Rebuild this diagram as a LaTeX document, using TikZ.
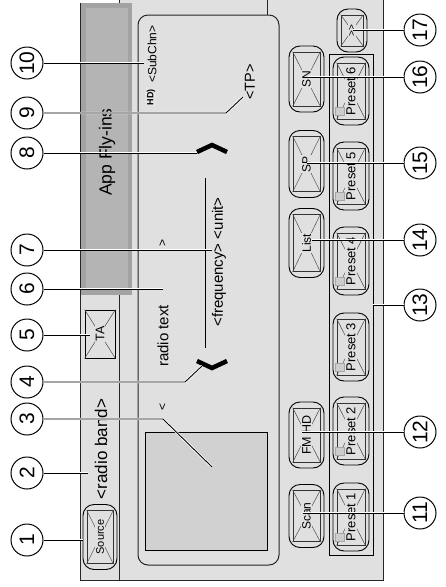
\documentclass[tikz,border=0pt]{standalone}
\usepackage{fontspec}
\setmainfont{Liberation Sans}
\definecolor{scr}{RGB}{224,224,224}
\definecolor{flyout}{RGB}{163,163,163}
\definecolor{flyin}{RGB}{180,180,180}
\definecolor{art}{RGB}{209,209,209}
\definecolor{icongray}{RGB}{205,205,205}
\newcommand{\fsz}[1]{\fontsize{#1}{#1}\selectfont}
% rounded button: name, position, width, height, text, font size
\newcommand{\rbtn}[6]{%
  \node[btnouter, minimum width=#3pt, minimum height=#4pt] (#1) at #2 {};
  \node[btninner, minimum width={#3pt-8pt}, minimum height={#4pt-12pt}] (#1i) at #2 {};
  \draw[xline] (#1i.north west) -- (#1i.south east) (#1i.north east) -- (#1i.south west);
  \node[lbl, fill=scr, font=\fsz{#6}] (#1t) at #2 {#5};
}
\begin{document}
\begin{tikzpicture}[x=1pt,y=-1pt,
  lbl/.style={rotate=90, inner sep=1pt},
  num/.style={circle, draw, line width=1pt, fill=white, minimum size=32pt, inner sep=0pt, rotate=90, font=\fsz{21}},
  leader/.style={line width=0.9pt, preaction={draw=white, line width=2.4pt}},
  frameline/.style={draw=black!85, line width=0.8pt},
  btnouter/.style={draw=black, line width=0.9pt, rounded corners=11pt, fill=scr, inner sep=0pt},
  btninner/.style={draw=black!80, line width=0.7pt, inner sep=0pt},
  xline/.style={draw=black!70, line width=0.5pt},
  iconbox/.style={draw=black!35, fill=icongray, line width=0.5pt, minimum size=8.5pt, inner sep=0pt},
  chevron/.style={line width=4.5pt, line join=miter},
]
\useasboundingbox (0,0) rectangle (445,587);

% screen background and frame
\fill[scr] (119,0) rectangle (383,580);
\fill[scr] (80,3) rectangle (119,580);
\draw[frameline] (80,580) -- (80,3) -- (119,3);
\draw[frameline] (119,0) -- (119,580);
\draw[frameline] (80,580) -- (383,580) -- (383,0);
\draw[frameline] (267,0) -- (267,15);

% main panel
\draw[draw=black!85, line width=1pt, rounded corners=10pt, fill=scr] (138,15) rectangle (279,565);
\node[draw=black, line width=1pt, fill=art, minimum width=122pt, minimum height=118pt, inner sep=0pt] (cover) at (206,491) {};

% texts in panel
\node[lbl, font=\fsz{12}] (subchn) at (152,54) {<SubChn>};
\node[lbl, fill=black!10, inner sep=0.8pt, font=\bfseries\fsz{9}] (hdlogo) at (151,97) {HD)};
\node[lbl, font=\fsz{14.5}] (tp) at (250,82) {<TP>};
\node[lbl, font=\fsz{15}] (freq) at (219,262) {<frequency> <unit>};
\node[lbl, font=\fsz{15}] (rtext) at (163,336) {radio text};
\node[lbl, font=\fsz{12}] (nextt) at (163,243) {>};
\node[lbl, font=\fsz{12}] (prevt) at (163,407) {<};
\coordinate (fqa) at (205,178);
\coordinate (fqb) at (205,348);
\draw[line width=0.9pt] (fqa) -- (fqb);
\coordinate (chua) at (197,152); \coordinate (chub) at (212,145); \coordinate (chuc) at (227,152);
\draw[chevron] (chua) -- (chub) -- (chuc);
\coordinate (chda) at (197,361); \coordinate (chdb) at (212,368); \coordinate (chdc) at (227,361);
\draw[chevron] (chda) -- (chdb) -- (chdc);

% status bar
\node[lbl, font=\fsz{17}] (band) at (101,449) {<radio band>};
\rbtn{source}{(100,537)}{34}{65}{Source}{11}
\node[draw=black, line width=0.8pt, minimum width=30pt, minimum height=48pt, inner sep=0pt] (ta) at (100,334) {};
\draw[xline] (ta.north west) -- (ta.south east) (ta.north east) -- (ta.south west);
\node[lbl, fill=scr, font=\fsz{12.5}] (tat) at (100,334) {TA};

% side buttons
\rbtn{sn}{(306.5,79)}{35}{66}{SN}{12}
\rbtn{sp}{(306.5,164)}{35}{67}{SP}{12}
\rbtn{list}{(306.5,243)}{35}{69}{List}{12}
\rbtn{fmhd}{(306.5,435)}{35}{66}{FM HD}{12.5}
\rbtn{scan}{(306.5,516)}{35}{63}{Scan}{12}
\rbtn{more}{(352,30.5)}{30}{43}{\char"003E\kern0.6pt\char"003E}{10}

% preset bar
\node[draw=black, line width=0.8pt, minimum width=44pt, minimum height=501pt, inner sep=0pt] (pbar) at (351,304.5) {};
\foreach \n/\y in {1/517,2/431,3/347,4/261,5/176,6/91}{
  \rbtn{p\n}{(351,\y)}{36}{68}{Preset \n}{13}
  \node[iconbox] (p\n icon) at ([xshift=3pt,yshift=8pt]p\n i.south west) {};
}

% app fly-ins overlay
\fill[flyout] (81,3) rectangle (132,295);
\fill[flyin] (86,8) rectangle (128,290);
\node[lbl, font=\fsz{17.5}] (fly) at (107,152) {App Fly-ins};

% callout circles
\foreach \i/\y in {1/540,2/473,3/419,4/382,5/335,6/289,7/250,8/153,9/113,10/63}{
  \node[num] (c\i) at (27,\y) {\i};
}
\foreach \i/\y in {17/30,16/77,15/163,14/240,13/305,12/432,11/513}{
  \node[num] (c\i) at (420,\y) {\i};
}
% leader end points
\coordinate (t1) at (83,540);
\coordinate (t2) at (88,473);
\coordinate (t3a) at (163,419); \coordinate (t3) at (212,467);
\coordinate (t4a) at (185,382); \coordinate (t4) at (202,366);
\coordinate (t5) at (90,335);
\coordinate (t6) at (163,289);
\coordinate (t7) at (212,250);
\coordinate (t8) at (197,153);
\coordinate (t9a) at (226,113); \coordinate (t9) at (243,97);
\coordinate (t10) at (144,63);
\coordinate (t17) at (353,30);
\coordinate (t16) at (308,77);
\coordinate (t15) at (307,163);
\coordinate (t14) at (312,240);
\coordinate (t13) at (373,305);
\coordinate (t12) at (302,432);
\coordinate (t11) at (303,513);

\draw[leader] (c1) -- (t1);
\draw[leader] (c2) -- (t2);
\draw[leader] (c3) -- (t3a) -- (t3);
\draw[leader] (c4) -- (t4a) -- (t4);
\draw[leader] (c5) -- (t5);
\draw[leader] (c6) -- (t6);
\draw[leader] (c7) -- (t7);
\draw[leader] (c8) -- (t8);
\draw[leader] (c9) -- (t9a) -- (t9);
\draw[leader] (c10) -- (t10);
\foreach \i in {11,...,17}{ \draw[leader] (c\i) -- (t\i); }
\end{tikzpicture}
\end{document}
